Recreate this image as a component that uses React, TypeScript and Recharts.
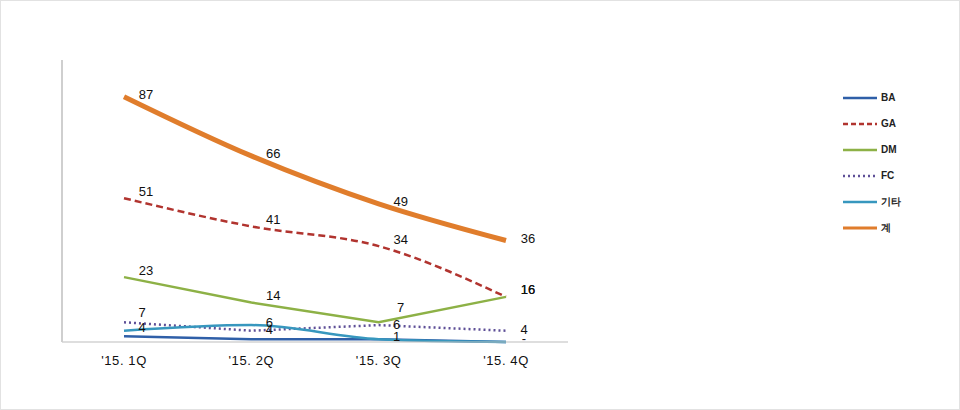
import { Line, LineChart, XAxis, YAxis } from "recharts";

const quarters = ["'15. 1Q", "'15. 2Q", "'15. 3Q", "'15. 4Q"];
const ba = [2, 1, 1, 0];
const ga = [51, 41, 34, 16];
const dm = [23, 14, 7, 16];
const fc = [7, 4, 6, 4];
const etc = [4, 6, 1, 0];
const total = [87, 66, 49, 36];

const data = quarters.map((q, i) => ({
    q,
    BA: ba[i],
    GA: ga[i],
    DM: dm[i],
    FC: fc[i],
    기타: etc[i],
    계: total[i],
}));

const FONT = "'Liberation Sans', Arial, sans-serif";

const series = [
    { key: "BA", color: "#2f5fa8", width: 2.5, dash: undefined, type: "linear", label: false, dx: 18, dy: 0 },
    { key: "GA", color: "#b1342f", width: 2.5, dash: "7 4", type: "monotone", label: true, dx: 22, dy: -6 },
    { key: "DM", color: "#8db146", width: 2.5, dash: undefined, type: "linear", label: true, dx: 22, dy: -6 },
    { key: "FC", color: "#5e4f97", width: 2.5, dash: "2 3", type: "linear", label: true, dx: 18, dy: 0 },
    { key: "기타", color: "#3797be", width: 2.5, dash: undefined, type: "monotone", label: true, dx: 18, dy: -2 },
    { key: "계", color: "#e07d2c", width: 5, dash: undefined, type: "monotone", label: true, dx: 22, dy: -1 },
] as const;

// a few labels sit higher so they clear the neighbouring line
const lifts: Record<string, number> = { "DM-2": -8, "FC-0": -9 };

const makeLabel = (dx: number, dy: number, key: string) => (props: any) => {
    const { x, y, value, index } = props;
    const lift = lifts[`${key}-${index}`] ?? 0;
    return (
        <text
            key={`${key}-${index}`}
            x={x + dx}
            y={y + dy + lift}
            textAnchor="middle"
            dominantBaseline="middle"
            fontSize={13}
            fontFamily={FONT}
            fill="#111"
        >
            {value === 0 ? "-" : value}
        </text>
    );
};

const LegendBox = () => (
    <svg width={80} height={160} style={{ position: "absolute", left: 840, top: 89 }}>
        {series.map((s, i) => (
            <g key={s.key} transform={`translate(0, ${i * 26 + 8})`}>
                <line
                    x1={2}
                    x2={36}
                    y1={0}
                    y2={0}
                    stroke={s.color}
                    strokeWidth={s.key === "계" ? 3 : 2.5}
                    strokeDasharray={s.dash === "2 3" ? "2 3" : s.dash ? "5 3" : undefined}
                />
                <text x={40} y={0} dominantBaseline="middle" fontSize={10} fontWeight="bold" fontFamily={FONT} fill="#222">
                    {s.key}
                </text>
            </g>
        ))}
    </svg>
);

export default function App() {
    return (
        <div style={{ width: 960, height: 410, position: "relative", boxSizing: "border-box", border: "1px solid #e2e2e2", background: "#fff" }}>
            <style>{`body{margin:0}`}</style>
            <LineChart
                width={958}
                height={408}
                data={data}
                margin={{ top: 59, right: 391, bottom: 37, left: 58 }}
            >
                <XAxis
                    dataKey="q"
                    padding={{ left: 62, right: 62 }}
                    tickLine={false}
                    axisLine={{ stroke: "#bdbdbd", strokeWidth: 1 }}
                    tick={{ fontSize: 13, fontFamily: FONT, fill: "#111", letterSpacing: 0.6 }}
                    tickMargin={8}
                    height={30}
                />
                <YAxis
                    domain={[0, 100]}
                    tick={false}
                    tickLine={false}
                    width={3}
                    axisLine={{ stroke: "#cfcfcf", strokeWidth: 2 }}
                />
                {series.map((s) => (
                    <Line
                        key={s.key}
                        dataKey={s.key}
                        type={s.type}
                        stroke={s.color}
                        strokeWidth={s.width}
                        strokeDasharray={s.dash}
                        dot={false}
                        activeDot={false}
                        isAnimationActive={false}
                        label={s.label ? makeLabel(s.dx, s.dy, s.key) : false}
                    />
                ))}
            </LineChart>
            <LegendBox />
        </div>
    );
}
